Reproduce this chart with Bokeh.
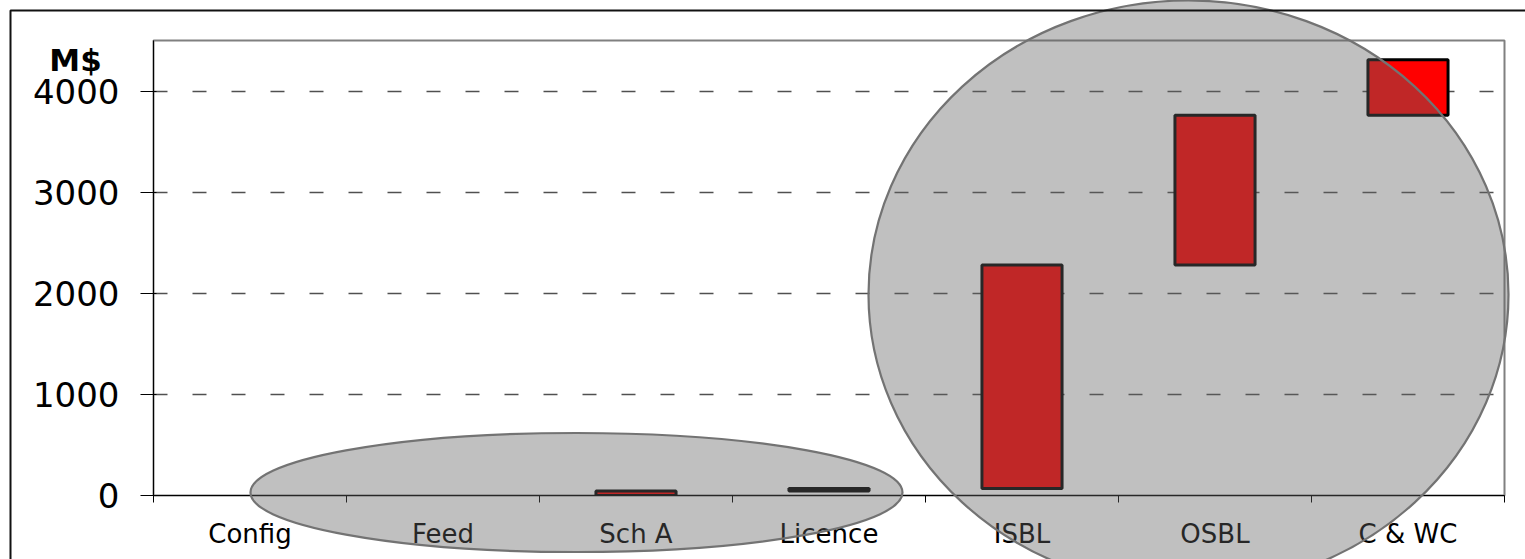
import numpy as np
from bokeh.plotting import figure
from bokeh.models import ColumnDataSource, FixedTicker, Range1d
from bokeh.core.properties import value
from bokeh.embed import file_html
from bokeh.resources import INLINE

# ---- data ----
categories = ["Config", "Feed", "Sch A", "Licence", "ISBL", "OSBL", "C & WC"]
increments = [0, 0, 45, 25, 2210, 1480, 550]
y_ticks = [0, 1000, 2000, 3000, 4000]
y_label = "M$"

inc = np.array(increments, dtype=float)
tops = np.cumsum(inc)
bottoms = tops - inc
xpos = np.arange(len(categories)) + 0.5
mask = inc > 0
src = ColumnDataSource(dict(x=xpos[mask], top=tops[mask], bottom=bottoms[mask]))

# ---- layout (pixels) ----
W, H = 1525, 559
FL, FR, FT, FB = 153, 1504, 40, 495
YMAX = 4500
NX = len(categories)


def px2x(px):
    return (px - FL) * NX / (FR - FL)


def px2y(py):
    return (FB - py) * YMAX / (FB - FT)


p = figure(width=W, height=H, output_backend="svg", toolbar_location=None,
           x_range=Range1d(0, NX), y_range=Range1d(0, YMAX),
           min_border_left=FL, min_border_right=W - FR, min_border_top=FT, min_border_bottom=H - FB)
p.background_fill_color = "white"
p.border_fill_color = "white"
p.outline_line_color = "#808080"
p.outline_line_width = 2

# x axis
p.xaxis.ticker = FixedTicker(ticks=list(xpos), minor_ticks=list(range(NX + 1)))
p.xaxis.major_label_overrides = {float(x): c for x, c in zip(xpos, categories)}
p.xaxis.major_tick_line_color = None
p.xaxis.minor_tick_line_color = "black"
p.xaxis.minor_tick_out = 7
p.xaxis.minor_tick_in = 0
p.xaxis.axis_line_color = "black"
p.xaxis.major_label_text_font = "DejaVu Sans"
p.xaxis.major_label_text_font_size = "26px"
p.xaxis.major_label_text_color = "black"
p.xaxis.major_label_standoff = 16
p.xgrid.grid_line_color = None

# y axis
p.yaxis.ticker = FixedTicker(ticks=y_ticks)
p.yaxis.major_tick_out = 13
p.yaxis.major_tick_in = 3
p.yaxis.major_tick_line_color = "black"
p.yaxis.minor_tick_line_color = None
p.yaxis.axis_line_color = "black"
p.yaxis.major_label_text_font = "DejaVu Sans"
p.yaxis.major_label_text_font_size = "34px"
p.yaxis.major_label_text_color = "black"
p.yaxis.major_label_standoff = 21
p.ygrid.grid_line_color = "#505050"
p.ygrid.grid_line_dash = "14 25"
p.ygrid.grid_line_width = 1.5

# bars
p.vbar(x="x", top="top", bottom="bottom", width=0.415, source=src,
       fill_color="#FF0000", line_color="black", line_width=3)

# highlight ellipses (translucent overlay)
p.ellipse(x=[px2x(576)], y=[px2y(492)], width=[652], height=[119],
          width_units="screen", height_units="screen",
          fill_color="#616161", fill_alpha=0.4, line_color="#737373", line_width=2.2, level="overlay")
p.ellipse(x=[px2x(1188)], y=[px2y(294)], width=[640], height=[588],
          width_units="screen", height_units="screen",
          fill_color="#616161", fill_alpha=0.4, line_color="#737373", line_width=2.2, level="overlay")

# unit label
p.text(x=[px2x(75)], y=[px2y(59)], text=[y_label], text_align="center", text_baseline="alphabetic",
       text_font=value("DejaVu Sans"), text_font_style="bold", text_font_size="31px",
       text_color="black", level="overlay")

# outer slide border
p.quad(left=[px2x(10)], right=[px2x(1700)], top=[px2y(10)], bottom=[px2y(800)],
       fill_alpha=0, line_color="#111111", line_width=2, level="overlay")

open("out.html", "w").write(file_html(p, INLINE))
